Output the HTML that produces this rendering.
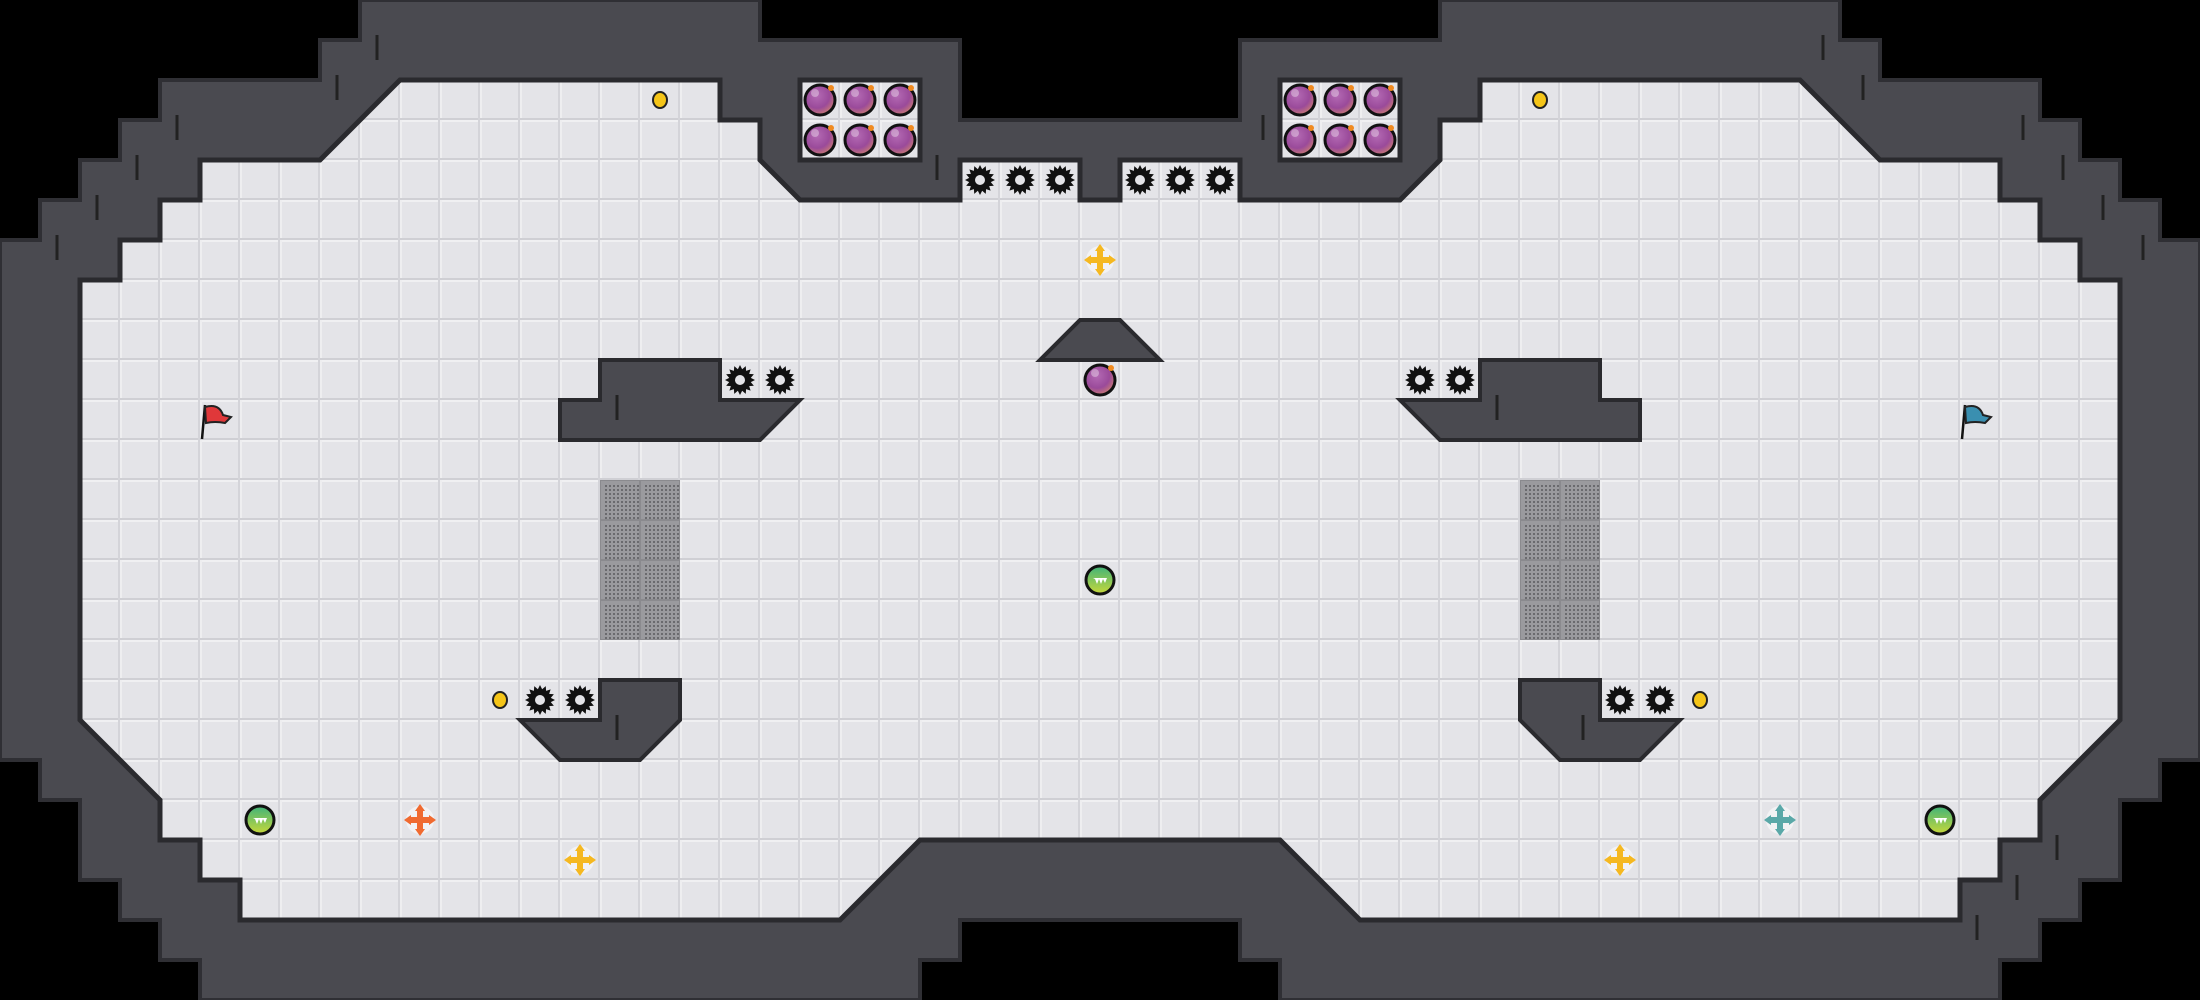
<!DOCTYPE html>
<html><head><meta charset="utf-8"><style>
html,body{margin:0;padding:0;background:#000;width:2200px;height:1000px;overflow:hidden}
svg{display:block}
</style></head><body>
<svg id="s" width="2200" height="1000" viewBox="0 0 2200 1000" xmlns="http://www.w3.org/2000/svg">
<defs>
<pattern id="g" width="40" height="40" patternUnits="userSpaceOnUse">
<rect width="40" height="40" fill="#e4e4e8"/>
<rect x="0" y="0" width="40" height="2" fill="#f0f0f2"/>
<rect x="0" y="0" width="2" height="40" fill="#eeeef0"/>
<rect x="0" y="38" width="40" height="2" fill="#cfcfd4"/>
<rect x="38" y="0" width="2" height="40" fill="#d4d4d9"/>
</pattern>
<pattern id="m" width="40" height="40" patternUnits="userSpaceOnUse">
<rect width="40" height="40" fill="#8a8a8e"/>
<rect x="1" y="1" width="38" height="38" fill="#9a9a9e"/>
<g fill="#6a6a6e" id="dots"></g>
</pattern>
<radialGradient id="bomb" cx="0.4" cy="0.35" r="0.7">
<stop offset="0" stop-color="#b46ab4"/><stop offset="0.6" stop-color="#9a4a9a"/><stop offset="1" stop-color="#d08070"/>
</radialGradient>
<linearGradient id="grn" x1="0" y1="0" x2="0" y2="1">
<stop offset="0" stop-color="#3fb37a"/><stop offset="1" stop-color="#c8d83a"/>
</linearGradient>
<g id="saw"><path id="sawp" fill="#111"/><circle r="5" fill="#e4e4e8"/></g>
<g id="bm"><circle r="15" fill="url(#bomb)" stroke="#111" stroke-width="3"/><circle cx="-5" cy="-7" r="4" fill="#fff" opacity="0.35"/><circle cx="11" cy="-12" r="3" fill="#f08a20"/></g>
<g id="gb"><circle r="14" fill="url(#grn)" stroke="#111" stroke-width="3"/><path d="M-7,-2 L7,-2 L5,3 L3,-1 L1,4 L-1,-1 L-3,4 L-5,-1Z" fill="#fff"/></g>
<g id="coin"><ellipse rx="7" ry="8" fill="#f5c518" stroke="#222" stroke-width="2"/></g>
</defs>
<!-- outer wall -->
<polygon fill="#4a4a50" stroke="#2f2f34" stroke-width="4" points="0,240 40,240 40,200 80,200 80,160 120,160 120,120 160,120 160,80 320,80 320,40 360,40 360,0 760,0 760,40 960,40 960,120 1240,120 1240,40 1440,40 1440,0 1840,0 1840,40 1880,40 1880,80 2040,80 2040,120 2080,120 2080,160 2120,160 2120,200 2160,200 2160,240 2200,240 2200,760 2160,760 2160,800 2120,800 2120,880 2080,880 2080,920 2040,920 2040,960 2000,960 2000,1000 1280,1000 1280,960 1240,960 1240,920 960,920 960,960 920,960 920,1000 200,1000 200,960 160,960 160,920 120,920 120,880 80,880 80,800 40,800 40,760 0,760"/>
<!-- floor -->
<polygon fill="url(#g)" stroke="#2a2a2e" stroke-width="5" stroke-linejoin="miter" points="400,80 720,80 720,120 760,120 760,160 800,200 960,200 960,160 1080,160 1080,200 1120,200 1120,160 1240,160 1240,200 1400,200 1440,160 1440,120 1480,120 1480,80 1800,80 1880,160 2000,160 2000,200 2040,200 2040,240 2080,240 2080,280 2120,280 2120,720 2040,800 2040,840 2000,840 2000,880 1960,880 1960,920 1360,920 1280,840 920,840 840,920 240,920 240,880 200,880 200,840 160,840 160,800 80,720 80,280 120,280 120,240 160,240 160,200 200,200 200,160 320,160"/>
<rect x="800" y="80" width="120" height="80" fill="url(#g)" stroke="#2a2a2e" stroke-width="5"/>
<rect x="1280" y="80" width="120" height="80" fill="url(#g)" stroke="#2a2a2e" stroke-width="5"/>
<!-- grates -->
<rect x="600" y="480" width="80" height="160" fill="url(#m)"/>
<rect x="1520" y="480" width="80" height="160" fill="url(#m)"/>
<!-- inner blocks -->
<g fill="#4a4a50" stroke="#2a2a2e" stroke-width="4">
<polygon points="600,360 720,360 720,400 800,400 760,440 560,440 560,400 600,400"/>
<polygon points="1600,360 1480,360 1480,400 1400,400 1440,440 1640,440 1640,400 1600,400"/>
<polygon points="1080,320 1120,320 1160,360 1040,360"/>
<polygon points="600,680 680,680 680,720 640,760 560,760 520,720 600,720"/>
<polygon points="1600,680 1520,680 1520,720 1560,760 1640,760 1680,720 1600,720"/>
</g>
<!-- wall ticks -->
<g stroke="#222" stroke-width="3">
<line x1="377" y1="35" x2="377" y2="60"/><line x1="337" y1="75" x2="337" y2="100"/>
<line x1="177" y1="115" x2="177" y2="140"/><line x1="137" y1="155" x2="137" y2="180"/>
<line x1="97" y1="195" x2="97" y2="220"/><line x1="57" y1="235" x2="57" y2="260"/>
<line x1="937" y1="155" x2="937" y2="180"/><line x1="617" y1="395" x2="617" y2="420"/>
<line x1="617" y1="715" x2="617" y2="740"/>
<line x1="1823" y1="35" x2="1823" y2="60"/><line x1="1863" y1="75" x2="1863" y2="100"/>
<line x1="2023" y1="115" x2="2023" y2="140"/><line x1="2063" y1="155" x2="2063" y2="180"/>
<line x1="2103" y1="195" x2="2103" y2="220"/><line x1="2143" y1="235" x2="2143" y2="260"/>
<line x1="1263" y1="115" x2="1263" y2="140"/><line x1="1497" y1="395" x2="1497" y2="420"/>
<line x1="2057" y1="835" x2="2057" y2="860"/><line x1="2017" y1="875" x2="2017" y2="900"/>
<line x1="1977" y1="915" x2="1977" y2="940"/><line x1="1583" y1="715" x2="1583" y2="740"/>
</g>
<!-- saws -->
<g id="saws"></g>
<!-- bombs -->
<use href="#bm" x="820" y="100"/><use href="#bm" x="860" y="100"/><use href="#bm" x="900" y="100"/>
<use href="#bm" x="820" y="140"/><use href="#bm" x="860" y="140"/><use href="#bm" x="900" y="140"/>
<use href="#bm" x="1300" y="100"/><use href="#bm" x="1340" y="100"/><use href="#bm" x="1380" y="100"/>
<use href="#bm" x="1300" y="140"/><use href="#bm" x="1340" y="140"/><use href="#bm" x="1380" y="140"/>
<use href="#bm" x="1100" y="380"/>
<!-- green balls -->
<use href="#gb" x="1100" y="580"/><use href="#gb" x="260" y="820"/><use href="#gb" x="1940" y="820"/>
<!-- coins -->
<use href="#coin" x="660" y="100"/><use href="#coin" x="1540" y="100"/><use href="#coin" x="500" y="700"/><use href="#coin" x="1700" y="700"/>
<!-- crosses -->
<g id="crosses"></g>
<!-- flags -->
<g transform="translate(205,405)">
<line x1="0" y1="0" x2="-3" y2="34" stroke="#111" stroke-width="2.5"/>
<path d="M0,2 Q14,-2 18,10 L26,12 L20,18 Q10,16 1,18Z" fill="#e0383a" stroke="#222" stroke-width="2"/>
</g>
<g transform="translate(1965,405)">
<line x1="0" y1="0" x2="-3" y2="34" stroke="#111" stroke-width="2.5"/>
<path d="M0,2 Q14,-2 18,10 L26,12 L20,18 Q10,16 1,18Z" fill="#3a8fb0" stroke="#222" stroke-width="2"/>
</g>
</svg>
<script>
var NS="http://www.w3.org/2000/svg";
// saw path
var d="",n=16;
for(var i=0;i<n*2;i++){var r=i%2?11:15,a=i*Math.PI/n;d+=(i?"L":"M")+(r*Math.cos(a)).toFixed(2)+","+(r*Math.sin(a)).toFixed(2);}
document.getElementById("sawp").setAttribute("d",d+"Z");
var sp=[[980,180],[1020,180],[1060,180],[1140,180],[1180,180],[1220,180],[740,380],[780,380],[1420,380],[1460,380],[540,700],[580,700],[1620,700],[1660,700]];
var sg=document.getElementById("saws");
sp.forEach(function(p){var u=document.createElementNS(NS,"use");u.setAttribute("href","#saw");u.setAttribute("x",p[0]);u.setAttribute("y",p[1]);sg.appendChild(u);});
// dots in grate
var dg=document.getElementById("dots");
for(var y=5;y<38;y+=4)for(var x=5;x<38;x+=4){var c=document.createElementNS(NS,"rect");c.setAttribute("x",x);c.setAttribute("y",y);c.setAttribute("width",2);c.setAttribute("height",2);dg.appendChild(c);}
// crosses
var cr=[[1100,260,"#f5b820"],[580,860,"#f5b820"],[1620,860,"#f5b820"],[420,820,"#f06a30"],[1780,820,"#5aa8a8"]];
var cg=document.getElementById("crosses");
cr.forEach(function(c){var g=document.createElementNS(NS,"g");g.setAttribute("transform","translate("+c[0]+","+c[1]+")");
g.innerHTML='<circle r="14" fill="#fff" opacity="0.5"/><path d="M-3,-10 L-3,-3 L-10,-3 L-10,3 L-3,3 L-3,10 L3,10 L3,3 L10,3 L10,-3 L3,-3 L3,-10Z" fill="'+c[2]+'"/><path d="M0,-16 L-5,-9 L5,-9Z M0,16 L-5,9 L5,9Z M-16,0 L-9,-5 L-9,5Z M16,0 L9,-5 L9,5Z" fill="'+c[2]+'"/>';
cg.appendChild(g);});
</script>
</body></html>
